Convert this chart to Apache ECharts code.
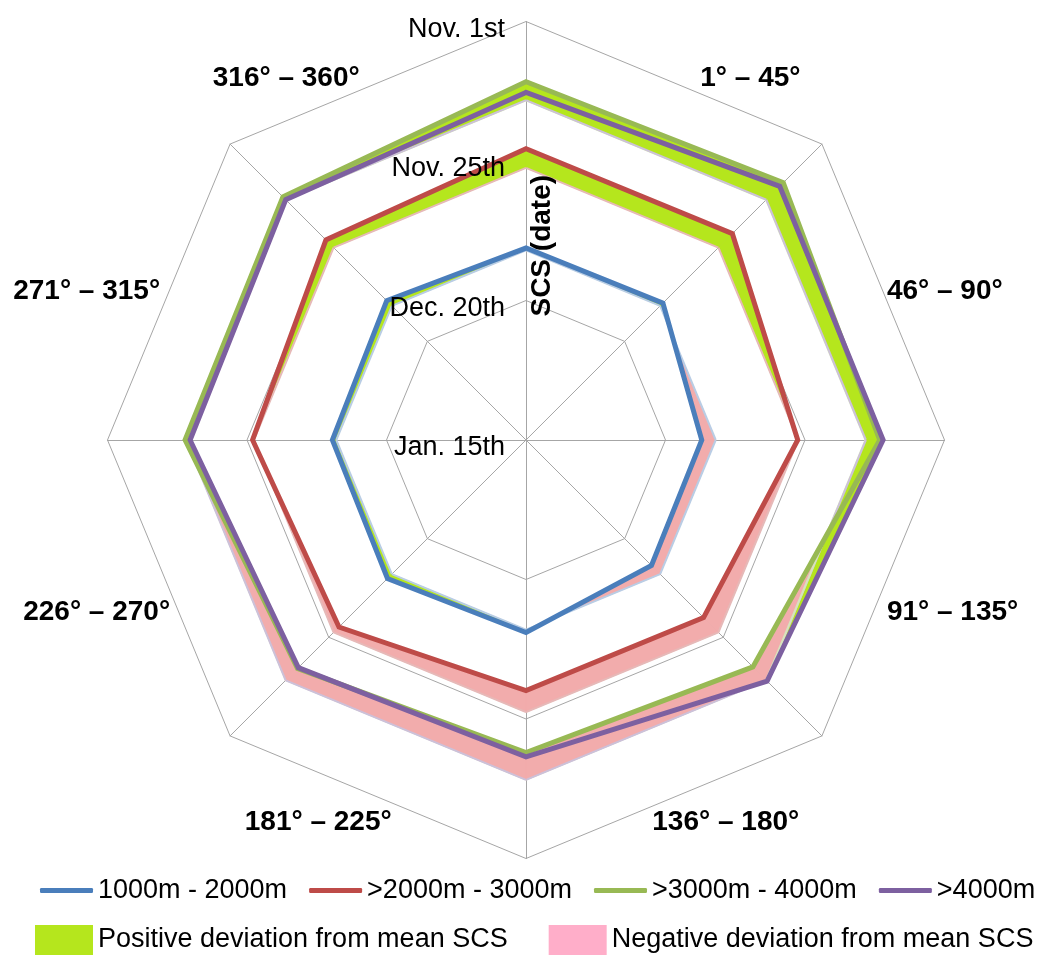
<!DOCTYPE html>
<html>
<head>
<meta charset="utf-8">
<script src="https://cdn.jsdelivr.net/npm/echarts@6/dist/echarts.min.js"></script>
<style>
  html, body { margin: 0; padding: 0; background: #ffffff; }
  #chart { width: 1043px; height: 955px; }
</style>
</head>
<body>
<div id="chart"></div>
<script>
// Aspect sectors written around the web (between the spokes)
const sectors = ['1° – 45°', '46° – 90°', '91° – 135°', '136° – 180°',
                 '181° – 225°', '226° – 270°', '271° – 315°', '316° – 360°'];
// Spoke directions, degrees clockwise from north
const spokeAngles = [0, 45, 90, 135, 180, 225, 270, 315];
// Radial tick labels for 0, 25, 50 and 75 days after Nov. 1st
const tickLabels = ['Nov. 1st', 'Nov. 25th', 'Dec. 20th', 'Jan. 15th'];
// Elevation bands
const bandNames = ['1000m - 2000m', '>2000m - 3000m', '>3000m - 4000m', '>4000m'];
// Snow cover start (SCS), days after Nov. 1st, one value per spoke
const scs1000 = [40.6, 40.3, 43.5, 43.2, 40.5, 39.9, 40.3, 39.7];
const scs2000 = [22.8, 22.7, 26.3, 30.0, 30.1, 27.6, 26.0, 24.3];
const scs3000 = [10.8,  9.8, 11.6, 17.5, 19.0, 17.1, 13.9, 13.4];
const scs4000 = [12.7, 10.7, 11.0, 13.9, 18.2, 17.3, 14.8, 14.1];

const FONT = 'Liberation Sans';
const GRID = '#A6A6A6';
const lineColors = ['#4A7EBB', '#BE4B48', '#98B954', '#7D60A0'];
const meanColors = ['#B9CDE5', '#E6B9B8', '#D7E4BD', '#CCC1DA'];
const POS_FILL = '#B5E61D';
const NEG_FILL = '#F2ACAC';
const NEG_KEY = '#FFAEC9';
const POS_NAME = 'Positive deviation from mean SCS';
const NEG_NAME = 'Negative deviation from mean SCS';
const CENTER = [526, 440];
const RADIUS = 418.5;

// nudges for the sector captions: [top, right, bottom, left]
const sectorLabelPad = [
  [0, 0, 43, 48], [0, 0, 8, 56], [32, 0, 0, 56], [63, 0, 0, 0],
  [63, 8, 0, 0], [32, 51, 0, 0], [0, 61, 8, 0], [0, 40, 43, 0]
];

const allSeries = [scs1000, scs2000, scs3000, scs4000];
// mean SCS of each elevation band over all directions
const means = allSeries.map(a => a.reduce((s, v) => s + v, 0) / a.length);

function ring(vals) {
  // closed outline: wrap past the first spoke so the top corner joins cleanly
  const pts = vals.map((v, i) => [v, spokeAngles[i]]);
  pts.push([vals[0], 360], [vals[1], 405]);
  return pts;
}

function bandItems() {
  const items = [];
  allSeries.forEach((vals, b) => vals.forEach((v, i) => items.push([v, spokeAngles[i], b, i])));
  return items;
}

function intersect(a, b, c, d) {
  const r = [b[0] - a[0], b[1] - a[1]];
  const s = [d[0] - c[0], d[1] - c[1]];
  const den = r[0] * s[1] - r[1] * s[0];
  const t = den === 0 ? 0.5 : ((c[0] - a[0]) * s[1] - (c[1] - a[1]) * s[0]) / den;
  return [a[0] + t * r[0], a[1] + t * r[1]];
}

// sign = 1: SCS earlier than the band mean, sign = -1: later
function bandRenderer(sign, fill) {
  return function (params, api) {
    const b = api.value(2), i = api.value(3);
    const vals = allSeries[b];
    const j = (i + 1) % vals.length;
    const a0 = spokeAngles[i];
    const a1 = j === 0 ? 360 : spokeAngles[j];
    const mean = means[b];
    const d0 = (mean - vals[i]) * sign;
    const d1 = (mean - vals[j]) * sign;
    if (d0 <= 0 && d1 <= 0) return null;
    const p0 = api.coord([vals[i], a0]);
    const p1 = api.coord([vals[j], a1]);
    const m0 = api.coord([mean, a0]);
    const m1 = api.coord([mean, a1]);
    let poly, edge;
    if (d0 >= 0 && d1 >= 0) {
      poly = [p0, p1, m1, m0]; edge = [m0, m1];
    } else {
      const x = intersect(p0, p1, m0, m1);
      if (d0 > 0) { poly = [p0, x, m0]; edge = [m0, x]; }
      else { poly = [x, p1, m1]; edge = [x, m1]; }
    }
    return {
      type: 'group',
      children: [
        { type: 'polygon', shape: { points: poly }, style: { fill: fill, stroke: fill, lineWidth: 0.6 } },
        { type: 'polyline', shape: { points: edge }, style: { stroke: meanColors[b], lineWidth: 2, fill: null } }
      ]
    };
  };
}

const textBase = { color: '#000000', fontFamily: FONT };

const series = [
  {
    type: 'custom', name: POS_NAME, coordinateSystem: 'polar', polarIndex: 0,
    dimensions: ['day', 'dir', 'band', 'spoke'], encode: { radius: 'day', angle: 'dir' },
    data: bandItems(), renderItem: bandRenderer(1, POS_FILL),
    itemStyle: { color: POS_FILL }, z: 1, silent: true, clip: false
  },
  {
    type: 'custom', name: NEG_NAME, coordinateSystem: 'polar', polarIndex: 0,
    dimensions: ['day', 'dir', 'band', 'spoke'], encode: { radius: 'day', angle: 'dir' },
    data: bandItems(), renderItem: bandRenderer(-1, NEG_FILL),
    itemStyle: { color: NEG_KEY }, z: 1, silent: true, clip: false
  }
].concat(allSeries.map((vals, b) => ({
  type: 'line', name: bandNames[b], coordinateSystem: 'polar', polarIndex: 0,
  data: ring(vals), symbol: 'none', showSymbol: false, clip: false, silent: true, z: 3,
  lineStyle: { color: lineColors[b], width: 5, join: 'miter', cap: 'round' },
  itemStyle: { color: lineColors[b] }
})));

const chart = echarts.init(document.getElementById('chart'), null, { renderer: 'canvas' });
chart.setOption({
  animation: false,
  backgroundColor: '#ffffff',
  radar: {
    center: CENTER, radius: RADIUS, startAngle: 90, shape: 'polygon', splitNumber: 3, z: 0,
    indicator: spokeAngles.map(() => ({ name: '', min: 0, max: 75 })),
    axisName: { show: false },
    axisLine: { lineStyle: { color: GRID, width: 1 } },
    splitLine: { lineStyle: { color: GRID, width: 1 } },
    splitArea: { show: false },
    axisTick: { show: false },
    axisLabel: { show: false }
  },
  polar: [
    { center: CENTER, radius: RADIUS },
    { center: CENTER, radius: 330 }
  ],
  angleAxis: [
    { polarIndex: 0, type: 'value', min: 0, max: 360, interval: 45, startAngle: 90, clockwise: true, show: false },
    {
      polarIndex: 1, type: 'category', boundaryGap: true, startAngle: 90, clockwise: true, z: 10,
      data: sectors.map((s, i) => ({ value: s, textStyle: { padding: sectorLabelPad[i] } })),
      axisLine: { show: false }, axisTick: { show: false }, splitLine: { show: false },
      axisLabel: Object.assign({ interval: 0, margin: 0, fontSize: 28, fontWeight: 'bold' }, textBase)
    }
  ],
  radiusAxis: [
    {
      polarIndex: 0, type: 'value', min: 0, max: 75, interval: 25, inverse: true, z: 10,
      axisLine: { show: false }, axisTick: { show: false }, splitLine: { show: false },
      axisLabel: Object.assign({
        formatter: v => tickLabels[Math.round(v / 25)], margin: 21, fontSize: 27,
        verticalAlign: 'top', lineHeight: 16
      }, textBase),
      name: 'SCS (date)', nameLocation: 'middle', nameRotate: 90, nameGap: 2,
      nameTextStyle: Object.assign({ fontSize: 28, fontWeight: 'bold', padding: [0, 30, 0, 0] }, textBase)
    },
    { polarIndex: 1, type: 'value', min: 0, max: 1, show: false }
  ],
  legend: [
    {
      data: bandNames, left: 40, top: 877, padding: 0, icon: 'roundRect', itemWidth: 53, itemHeight: 5, itemGap: 22,
      selectedMode: false, textStyle: Object.assign({ fontSize: 27 }, textBase)
    },
    {
      data: [
        { name: POS_NAME, icon: 'rect', itemStyle: { color: POS_FILL } },
        { name: NEG_NAME, icon: 'rect', itemStyle: { color: NEG_KEY } }
      ],
      left: 35, top: 925, padding: 0, itemWidth: 58, itemHeight: 30, itemGap: 41,
      selectedMode: false, textStyle: Object.assign({ fontSize: 27 }, textBase)
    }
  ],
  series: series
});
</script>
</body>
</html>
